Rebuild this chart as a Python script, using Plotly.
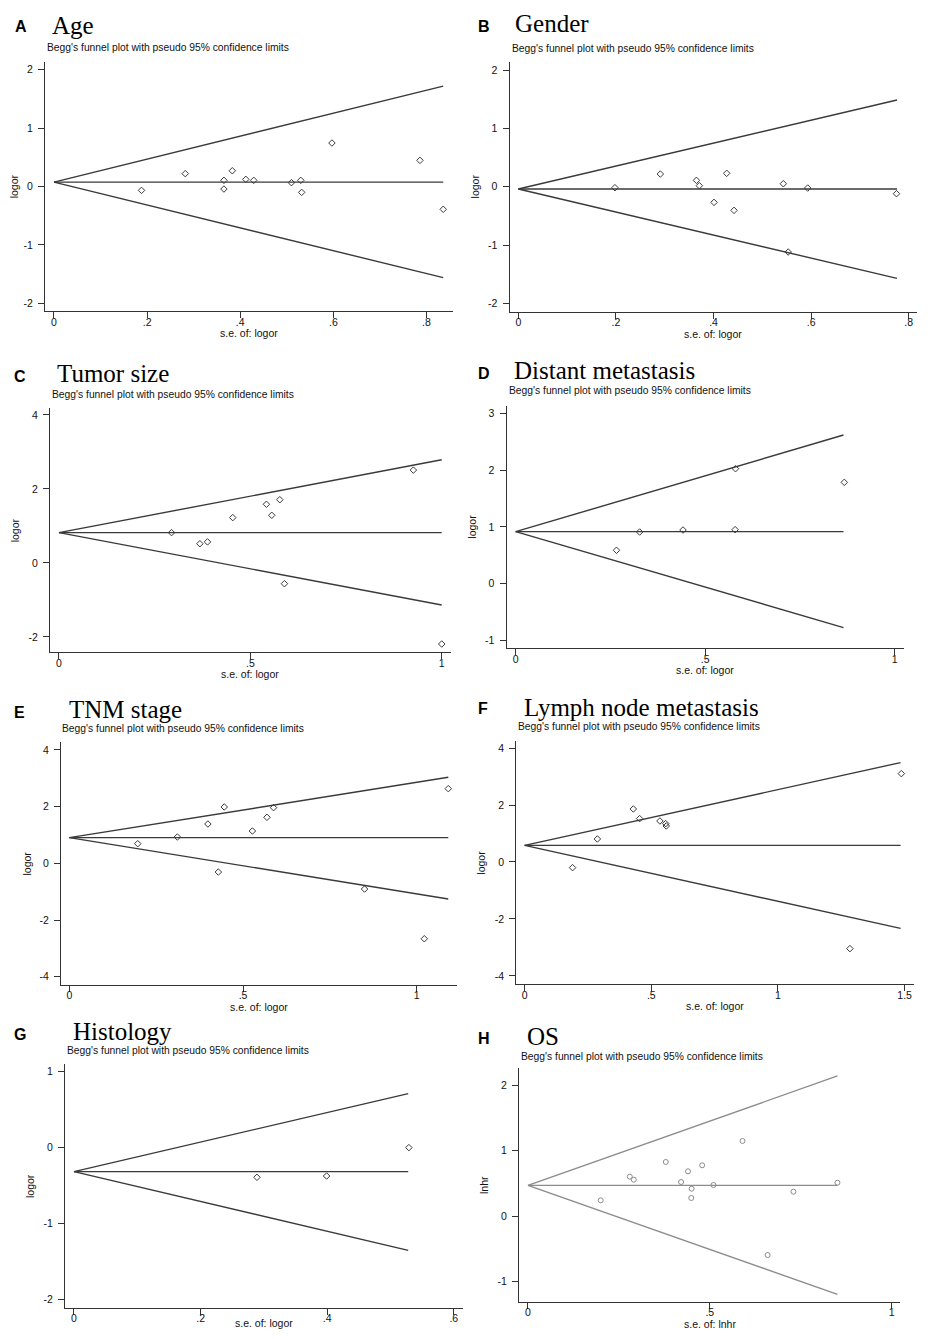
import plotly.graph_objects as go

# ---------------- data ----------------
panel_letters = ["A", "B", "C", "D", "E", "F", "G", "H"]
panel_titles = ["Age", "Gender", "Tumor size", "Distant metastasis",
                "TNM stage", "Lymph node metastasis", "Histology", "OS"]
subtitle = "Begg's funnel plot with pseudo 95% confidence limits"
y_titles = ["logor"] * 7 + ["lnhr"]
x_titles = ["s.e. of: logor"] * 7 + ["s.e. of: lnhr"]

# standard errors (x) and effect sizes (y) of the single studies
age_se = [0.188, 0.282, 0.365, 0.365, 0.383, 0.412, 0.429, 0.510, 0.530, 0.532, 0.597, 0.786, 0.836]
age_es = [-0.066, 0.22, 0.106, -0.043, 0.27, 0.123, 0.106, 0.066, 0.106, -0.10, 0.745, 0.448, -0.39]

gender_se = [0.198, 0.291, 0.365, 0.371, 0.401, 0.427, 0.442, 0.543, 0.553, 0.593, 0.775]
gender_es = [-0.017, 0.217, 0.109, 0.017, -0.269, 0.229, -0.406, 0.051, -1.12, -0.023, -0.12]

tumor_se = [0.294, 0.368, 0.388, 0.454, 0.542, 0.556, 0.577, 0.589, 0.926, 1.0]
tumor_es = [0.82, 0.52, 0.57, 1.225, 1.586, 1.288, 1.71, -0.56, 2.51, -2.19]

distant_se = [0.266, 0.327, 0.4415, 0.580, 0.579, 0.867]
distant_es = [0.587, 0.909, 0.944, 2.023, 0.950, 1.783]

tnm_se = [0.197, 0.311, 0.399, 0.429, 0.446, 0.527, 0.569, 0.588, 0.850, 1.022, 1.091]
tnm_es = [0.694, 0.929, 1.388, -0.306, 1.988, 1.141, 1.624, 1.965, -0.906, -2.659, 2.635]

lymph_se = [0.189, 0.287, 0.429, 0.454, 0.534, 0.557, 0.559, 1.284, 1.487]
lymph_es = [-0.199, 0.808, 1.862, 1.522, 1.44, 1.347, 1.265, -3.044, 3.103]

histology_se = [0.289, 0.399, 0.529]
histology_es = [-0.390, -0.373, 0.0]

os_se = [0.200, 0.280, 0.291, 0.379, 0.421, 0.440, 0.450, 0.449, 0.479, 0.510, 0.590, 0.659, 0.730, 0.851]
os_es = [0.240, 0.602, 0.556, 0.827, 0.520, 0.684, 0.418, 0.276, 0.776, 0.474, 1.148, -0.597, 0.372, 0.510]

# funnel: pooled estimate, s.e. at line end, upper limit at end, lower limit at end
age_funnel = [0.075, 0.836, 1.72, -1.56]
gender_funnel = [-0.04, 0.776, 1.486, -1.571]
tumor_funnel = [0.82, 1.0, 2.79, -1.135]
distant_funnel = [0.915, 0.865, 2.616, -0.774]
tnm_funnel = [0.906, 1.091, 3.035, -1.259]
lymph_funnel = [0.585, 1.484, 3.49, -2.33]
histology_funnel = [-0.316, 0.528, 0.711, -1.351]
os_funnel = [0.469, 0.851, 2.143, -1.199]

# tick values / labels
x_ticks_08 = [0, 0.2, 0.4, 0.6, 0.8]
x_labels_08 = ["0", ".2", ".4", ".6", ".8"]
x_ticks_1 = [0, 0.5, 1]
x_labels_1 = ["0", ".5", "1"]
x_ticks_15 = [0, 0.5, 1, 1.5]
x_labels_15 = ["0", ".5", "1", "1.5"]
x_ticks_06 = [0, 0.2, 0.4, 0.6]
x_labels_06 = ["0", ".2", ".4", ".6"]
y_ticks_2 = [-2, -1, 0, 1, 2]
y_ticks_42 = [-2, 0, 2, 4]
y_ticks_3 = [-1, 0, 1, 2, 3]
y_ticks_4 = [-4, -2, 0, 2, 4]
y_ticks_1 = [-2, -1, 0, 1]
y_ticks_h = [-1, 0, 1, 2]

panels = [
    (age_se, age_es, age_funnel, x_ticks_08, x_labels_08, y_ticks_2),
    (gender_se, gender_es, gender_funnel, x_ticks_08, x_labels_08, y_ticks_2),
    (tumor_se, tumor_es, tumor_funnel, x_ticks_1, x_labels_1, y_ticks_42),
    (distant_se, distant_es, distant_funnel, x_ticks_1, x_labels_1, y_ticks_3),
    (tnm_se, tnm_es, tnm_funnel, x_ticks_1, x_labels_1, y_ticks_4),
    (lymph_se, lymph_es, lymph_funnel, x_ticks_15, x_labels_15, y_ticks_4),
    (histology_se, histology_es, histology_funnel, x_ticks_06, x_labels_06, y_ticks_1),
    (os_se, os_es, os_funnel, x_ticks_1, x_labels_1, y_ticks_h),
]

# ---------------- layout geometry (pixels of the whole page) ----------------
W, H = 928, 1339
OFF = 8  # the page body keeps an 8px margin round the plot div
FW, FH = W - 2 * OFF, H - 2 * OFF


def px(x):
    return (x - OFF) / FW


def py(y):
    return 1 - (y - OFF) / FH


# plot box: left, top, right, bottom
boxes = [
    (45, 61.7, 453, 311),
    (509.7, 61.7, 917, 311.7),
    (50, 408.3, 450.7, 652.3),
    (506.7, 405.7, 904, 648.3),
    (61, 742.3, 457.3, 984.7),
    (516.3, 740.7, 914, 984),
    (65, 1064.3, 463.3, 1307.7),
    (519, 1068.3, 900, 1301.7),
]
x_ranges = [(-0.0193, 0.857), (-0.0177, 0.817), (-0.0235, 1.0235), (-0.0237, 1.0246),
            (-0.024, 1.117), (-0.033, 1.537), (-0.0142, 0.615), (-0.0247, 1.023)]
y_ranges = [(-2.131, 2.137), (-2.143, 2.143), (-2.414, 4.18), (-1.138, 3.132),
            (-4.28, 4.27), (-4.286, 4.26), (-2.105, 1.096), (-1.311, 2.26)]
letter_pos = [(12.7, 26.7), (475.7, 26.7), (11.7, 376.7), (475.7, 374),
              (11.7, 712.5), (475.7, 709), (11.7, 1034.7), (475.7, 1038)]
title_pos = [(50, 25), (513.3, 24), (55, 373.6), (512.3, 370.5),
             (66.7, 709.6), (522.3, 707.3), (70.7, 1031.3), (525, 1036.3)]
sub_pos = [(45, 47.7), (509.7, 48.7), (50, 394), (506.7, 391),
           (60, 728.7), (515.7, 726.7), (65, 1050.3), (519, 1056.3)]

SANS = "Arial, Liberation Sans, sans-serif"
SERIF = "Times New Roman, Liberation Serif, serif"
AXIS_COL = "#333333"

fig = go.Figure()
annotations = []
layout_axes = {}

for i, (se, es, funnel, xt, xl, yt) in enumerate(panels):
    n = "" if i == 0 else str(i + 1)
    xa, ya = "x" + n, "y" + n
    line_col = "#8c8c8c" if i == 7 else "#3a3a3a"
    pooled, se_end, upper, lower = funnel

    for y_end in (upper, pooled, lower):
        fig.add_trace(go.Scatter(x=[0, se_end], y=[pooled, y_end], mode="lines",
                                 line=dict(color=line_col, width=1.4),
                                 xaxis=xa, yaxis=ya, showlegend=False, hoverinfo="skip"))
    fig.add_trace(go.Scatter(x=se, y=es, mode="markers",
                             marker=dict(symbol="circle-open" if i == 7 else "diamond-open",
                                         size=5, color=line_col, line=dict(width=1)),
                             xaxis=xa, yaxis=ya, showlegend=False))

    l, t, r, b = boxes[i]
    common = dict(showline=True, linecolor=AXIS_COL, linewidth=1.3, mirror=False,
                  ticks="outside", ticklen=6, tickwidth=1.2, tickcolor=AXIS_COL,
                  showgrid=False, zeroline=False,
                  tickfont=dict(family=SANS, size=10.5, color="#111111"))
    layout_axes["xaxis" + n] = dict(common, domain=[px(l), px(r)], anchor=ya,
                                    range=list(x_ranges[i]), tickvals=xt, ticktext=xl,
                                    ticklabelstandoff=-5)
    layout_axes["yaxis" + n] = dict(common, domain=[py(b), py(t)], anchor=xa,
                                    range=list(y_ranges[i]), tickvals=yt,
                                    ticktext=[str(v) for v in yt],
                                    ticklabelstandoff=3)

    lx, ly = letter_pos[i]
    annotations.append(dict(x=px(lx), y=py(ly), xref="paper", yref="paper",
                            text="<b>" + panel_letters[i] + "</b>", showarrow=False,
                            xanchor="left", yanchor="middle",
                            font=dict(family=SANS, size=16, color="black")))
    tx, ty = title_pos[i]
    annotations.append(dict(x=px(tx), y=py(ty), xref="paper", yref="paper",
                            text=panel_titles[i], showarrow=False,
                            xanchor="left", yanchor="middle",
                            font=dict(family=SERIF, size=25, color="black")))
    sx, sy = sub_pos[i]
    annotations.append(dict(x=px(sx), y=py(sy), xref="paper", yref="paper",
                            text=subtitle, showarrow=False,
                            xanchor="left", yanchor="middle",
                            font=dict(family=SANS, size=10.3, color="#111111")))
    annotations.append(dict(x=px(max(l - 35, 14)), y=py((t + b) / 2),
                            xref="paper", yref="paper",
                            text=y_titles[i], showarrow=False, textangle=-90,
                            xanchor="center", yanchor="middle",
                            font=dict(family=SANS, size=10.5, color="#111111")))
    if b + 22 + 7 > H - OFF:
        # bottom row: keep the axis title inside the page
        annotations.append(dict(x=px((l + r) / 2), y=0, xref="paper", yref="paper",
                                text=x_titles[i], showarrow=False,
                                xanchor="center", yanchor="bottom",
                                font=dict(family=SANS, size=10.5, color="#111111")))
    else:
        annotations.append(dict(x=px((l + r) / 2), y=py(b + 22), xref="paper", yref="paper",
                                text=x_titles[i], showarrow=False,
                                xanchor="center", yanchor="middle",
                                font=dict(family=SANS, size=10.5, color="#111111")))

fig.update_layout(width=FW, height=FH, margin=dict(l=0, r=0, t=0, b=0),
                  paper_bgcolor="white", plot_bgcolor="white",
                  annotations=annotations, **layout_axes)

fig.write_html("out.html")
